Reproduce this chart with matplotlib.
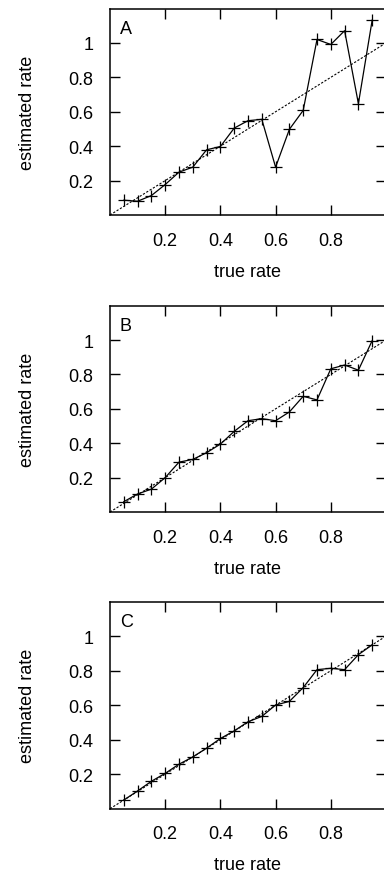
import matplotlib
matplotlib.use("Agg")
import matplotlib.pyplot as plt

plt.rcParams['font.family'] = ['Liberation Sans', 'DejaVu Sans']

true_rate = [0.05, 0.10, 0.15, 0.20, 0.25, 0.30, 0.35, 0.40, 0.45, 0.50,
             0.55, 0.60, 0.65, 0.70, 0.75, 0.80, 0.85, 0.90, 0.95]
est_A = [0.086, 0.080, 0.113, 0.177, 0.249, 0.278, 0.379, 0.398, 0.505, 0.548,
         0.556, 0.278, 0.498, 0.608, 1.020, 0.991, 1.071, 0.647, 1.133]
est_B = [0.060, 0.105, 0.133, 0.200, 0.290, 0.306, 0.345, 0.395, 0.469, 0.531,
         0.543, 0.531, 0.582, 0.673, 0.652, 0.833, 0.855, 0.825, 0.997]
est_C = [0.050, 0.103, 0.159, 0.205, 0.258, 0.300, 0.351, 0.407, 0.451, 0.504,
         0.535, 0.601, 0.622, 0.702, 0.806, 0.814, 0.806, 0.893, 0.950]
panel_labels = ['A', 'B', 'C']
xticks = [0.2, 0.4, 0.6, 0.8]
yticks = [0.2, 0.4, 0.6, 0.8, 1.0]
xticklabels = ['0.2', '0.4', '0.6', '0.8']
yticklabels = ['0.2', '0.4', '0.6', '0.8', '1']

W, H = 384, 879
fig = plt.figure(figsize=(W / 100, H / 100), dpi=100)

boxes = [(9.5, 216.0), (306.7, 513.0), (602.7, 809.7)]
left_px, right_px = 110.0, 386.0

for (top, bot), lab, est in zip(boxes, panel_labels, [est_A, est_B, est_C]):
    ax = fig.add_axes([left_px / W, 1 - bot / H, (right_px - left_px) / W, (bot - top) / H])
    ax.plot([0, 1], [0, 1], color='black', lw=0.8, linestyle=(0, (2, 1.5)))
    ax.plot(true_rate, est, color='black', lw=0.9, marker='+', markersize=8,
            markeredgewidth=0.9)
    ax.set_xlim(0, 1)
    ax.set_ylim(0, 1.2)
    ax.set_xticks(xticks)
    ax.set_xticklabels(xticklabels)
    ax.set_yticks(yticks)
    ax.set_yticklabels(yticklabels)
    ax.tick_params(direction='in', length=7.5, width=1, top=True, right=True,
                   labelsize=13, pad=12)
    for s in ax.spines.values():
        s.set_linewidth(1.1)
    ax.set_xlabel('true rate', fontsize=13, labelpad=10)
    ax.set_ylabel('estimated rate', fontsize=13, labelpad=23)
    ax.text(0.035, 0.945, lab, transform=ax.transAxes, fontsize=13,
            ha='left', va='top')

fig.savefig('out.png', dpi=100)
